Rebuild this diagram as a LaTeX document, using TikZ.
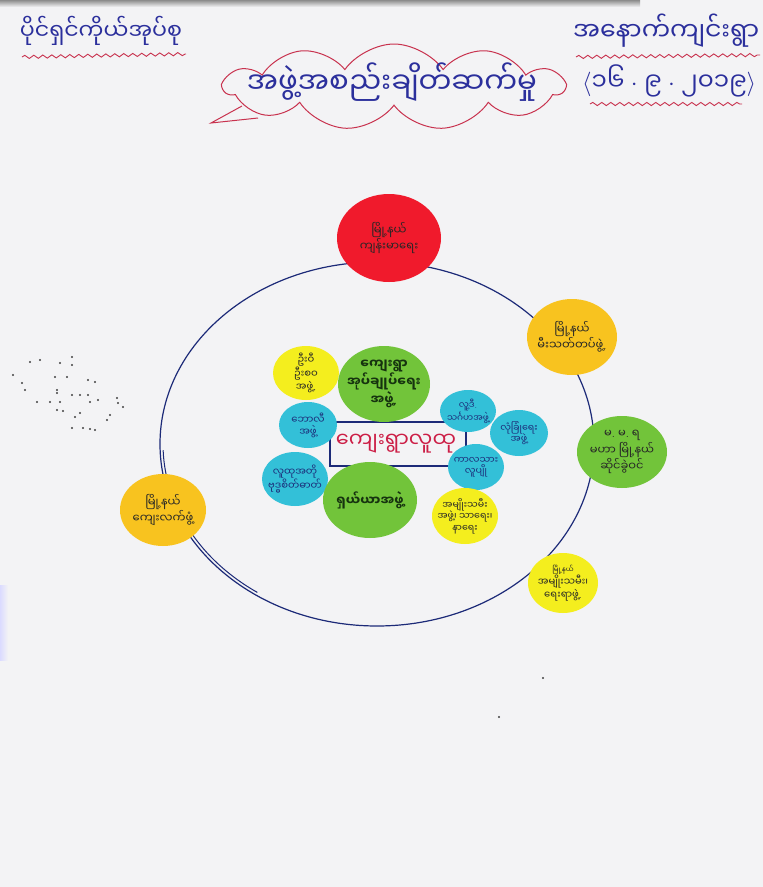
\documentclass[tikz,border=0pt]{standalone}
\usepackage{fontspec}
\usepackage{graphicx}
\newfontfamily\my[Script=Myanmar]{Noto Sans Myanmar UI}
\newcommand\pd{{\normalfont.}}
\usetikzlibrary{shapes.geometric,shapes.symbols,decorations.pathmorphing}
\definecolor{paper}{HTML}{F3F3F5}
\definecolor{navy}{HTML}{1C2A78}
\definecolor{inkblue}{HTML}{2B2F9C}
\definecolor{cloudred}{HTML}{C8324E}
\definecolor{redc}{HTML}{F01A2C}
\definecolor{orangey}{HTML}{F8C31F}
\definecolor{brighty}{HTML}{F4EE1E}
\definecolor{greenc}{HTML}{72C43A}
\definecolor{cyanc}{HTML}{33C0D8}
\definecolor{crimson}{HTML}{CC1E46}
\definecolor{darkgreen}{HTML}{16330F}
\tikzset{
  disc/.style={ellipse, inner sep=-6pt, align=center, text=black!85,
    font=\my\fontsize{10}{12}\selectfont},
  outerdisc/.style={disc, font=\my\fontsize{11.5}{14}\selectfont},
  bigdisc/.style={disc, text=darkgreen, font=\my\bfseries\fontsize{13}{16}\selectfont},
  wavy/.style={cloudred, line width=0.9pt, decorate,
    decoration={snake, amplitude=1.6pt, segment length=9pt}},
  hand/.style={text=inkblue, inner sep=0pt},
  speck/.style={fill=black!75, circle, inner sep=0pt, minimum size=2.2pt},
}
\begin{document}
\begin{tikzpicture}[x=1pt,y=-1pt]
\fill[paper] (0,0) rectangle (763,887);
\useasboundingbox (0,0) rectangle (763,887);
\shade[top color=black!45, bottom color=paper] (0,0) rectangle (640,7);
\shade[left color=blue!14, right color=paper] (0,585) rectangle (8,660);

% titles
\node[hand] (owner) at (101,31) {\resizebox{162pt}{!}{\my ပိုင်ရှင်ကိုယ်အုပ်စု}};
\draw[wavy] (22,57) -- (186,54);
\node[hand, anchor=west] (village) at (573,31) {\resizebox{186pt}{!}{\my အနောက်ကျင်းရွာ}};
\draw[wavy] (576,57) -- (760,55);
\node[hand, anchor=west] (date) at (582,81) {\resizebox{174pt}{!}{$\langle$\my ၁၆ $\cdot$ ၉ $\cdot$ ၂၀၁၉$\rangle$}};
\draw[wavy] (590,104) -- (742,104);

% cloud
\coordinate (tailA) at (242,106);
\coordinate (tip) at (211,123);
\coordinate (tailB) at (258,118);
\draw[cloudred, line width=1pt] (tailA) -- (tip) -- (tailB);
\node[cloud, draw=cloudred, fill=paper, line width=1pt, cloud puffs=11, cloud puff arc=110,
      minimum width=340pt, minimum height=86pt] (cloud) at (394,87) {};
\node[hand] (cloudtxt) at (392,82) {\resizebox{290pt}{!}{\my အဖွဲ့အစည်းချိတ်ဆက်မှု}};

% ring
\coordinate (ring) at (377,444);
\draw[navy, line width=1.2pt] (ring) ellipse [x radius=217pt, y radius=182pt];
\draw[navy, line width=1pt] ([shift={(182:214pt and 179pt)}]ring)
   arc[start angle=182, end angle=236, x radius=214pt, y radius=179pt];

% centre box
\node[draw=navy, line width=1.1pt, minimum width=136pt, minimum height=44pt, inner sep=0pt] (box) at (398,444) {};

% outer discs
\node[outerdisc, fill=redc, minimum width=104pt, minimum height=88pt] (health) at (389,238) {မြို့နယ်\\ကျန်းမာရေး};
\node[outerdisc, fill=orangey, minimum width=90pt, minimum height=76pt] (fire) at (572,337) {မြို့နယ်\\မီးသတ်တပ်ဖွဲ့\pd};
\node[outerdisc, fill=greenc, minimum width=90pt, minimum height=72pt] (mmr) at (622,452) {မ\pd\ မ\pd\ ရ\\မဟာ မြို့နယ်\\ဆိုင်ခွဲဝင်};
\node[disc, fill=brighty, minimum width=70pt, minimum height=60pt] (women) at (563,583) {{\fontsize{7}{8}\selectfont မြို့နယ်}\\အမျိုးသမီး၊\\ရေးရာဖွဲ့\pd};
\node[outerdisc, fill=orangey, minimum width=86pt, minimum height=72pt] (rural) at (163,510) {မြို့နယ်\\ကျေးလက်ဖွံ့};

% inner discs
\node[disc, fill=brighty, minimum width=66pt, minimum height=54pt] (elders) at (306,373) {ဦးဝီ\\ဦးစဝ\\အဖွဲ့\pd};
\node[disc, fill=cyanc, text=navy, minimum width=58pt, minimum height=46pt] (ball) at (308,425) {ဘောလီ\\အဖွဲ့};
\node[disc, fill=cyanc, text=navy, minimum width=66pt, minimum height=54pt] (buddha) at (295,479) {လူထုအတို\\ဗုဒ္ဓစိတ်ဓာတ်};
\node[bigdisc, fill=greenc, minimum width=92pt, minimum height=76pt] (admin) at (384,384) {ကျေးရွာ\\အုပ်ချုပ်ရေး\\အဖွဲ့\pd};
\node[bigdisc, fill=greenc, minimum width=94pt, minimum height=76pt] (share) at (370,500) {ရှယ်ယာအဖွဲ့};
\node[disc, fill=cyanc, text=navy, minimum width=56pt, minimum height=42pt, font=\my\fontsize{9}{11}\selectfont] (social) at (468,411) {လူ့ဒီ\pd\\သင်္ဂဟအဖွဲ့};
\node[disc, fill=cyanc, text=navy, minimum width=58pt, minimum height=46pt, font=\my\fontsize{9.5}{11.5}\selectfont] (security) at (519,433) {လုံခြုံရေး\\အဖွဲ့};
\node[disc, fill=cyanc, text=navy, minimum width=56pt, minimum height=46pt, font=\my\fontsize{9.5}{11.5}\selectfont] (youth) at (476,467) {ကာလသား\\လူပျို};
\node[disc, fill=brighty, minimum width=66pt, minimum height=56pt, font=\my\fontsize{9.5}{11.5}\selectfont] (wgroup) at (465,516) {အမျိုးသမီး\\အဖွဲ့၊ သာရေး၊\\နာရေး};

\node[text=crimson, inner sep=0pt] (community) at (396,444) {\resizebox{120pt}{!}{\my ကျေးရွာလူထု}};

% specks
\foreach \p [count=\i] in {(30,362),(40,360),(60,363),(72,357),(72,365),(13,375),(22,383),(25,390),
  (55,377),(67,377),(88,380),(95,382),(57,390),(57,393),(72,395),(80,395),(88,395),(37,402),(50,402),
  (60,402),(90,402),(98,400),(117,398),(118,403),(123,407),(57,410),(63,411),(80,413),(75,417),
  (110,415),(107,420),(72,428),(83,428),(90,429),(95,430),(543,678),(499,717)}
  \node[speck] (speck\i) at \p {};
\end{tikzpicture}
\end{document}
